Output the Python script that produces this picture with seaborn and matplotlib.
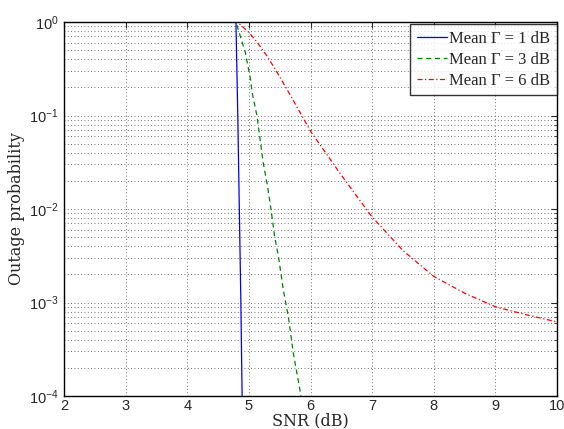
import numpy as np
import pandas as pd
import matplotlib
matplotlib.use("Agg")
import matplotlib.pyplot as plt
from matplotlib.ticker import LogLocator, FixedLocator, NullFormatter
import seaborn as sns

# ---- data ----
snr_g1 = [2.0, 4.79, 4.82, 4.845, 4.87, 4.89, 4.91]
out_g1 = [1.0, 1.0, 0.1, 0.01, 0.001, 1e-4, 1e-5]

snr_g3 = [2.0, 4.79, 4.88, 4.94, 4.98, 5.02, 5.05, 5.13, 5.18, 5.23, 5.30,
          5.36, 5.42, 5.48, 5.56, 5.64, 5.72, 5.83, 5.86]
out_g3 = [1.0, 1.0, 0.64, 0.48, 0.35, 0.26, 0.18, 0.10, 0.057, 0.032, 0.018,
          0.0098, 0.005, 0.0031, 0.00135, 7.1e-4, 2.9e-4, 1.15e-4, 8e-5]

snr_g6 = [2.0, 4.81, 5.0, 5.15, 5.3, 5.45, 5.6, 5.8, 6.0, 6.5, 7.0, 7.5, 8.0,
          8.5, 9.0, 9.5, 10.0]
out_g6 = [1.0, 1.0, 0.776, 0.589, 0.427, 0.295, 0.20, 0.117, 0.068, 0.023,
          0.0082, 0.0036, 0.0019, 0.00126, 0.0009, 0.00074, 0.00062]

labels = ["Mean Γ = 1 dB", "Mean Γ = 3 dB", "Mean Γ = 6 dB"]
x_ticks = [2, 3, 4, 5, 6, 7, 8, 9, 10]
y_ticks = [1e-4, 1e-3, 1e-2, 1e-1, 1e0]
y_tick_labels = [r"$10^{-4}$", r"$10^{-3}$", r"$10^{-2}$", r"$10^{-1}$", r"$10^{0}$"]

sns.set_style("white")
plt.rcParams["font.family"] = ["Liberation Sans", "DejaVu Sans"]
plt.rcParams["mathtext.fontset"] = "custom"
plt.rcParams["mathtext.rm"] = "Liberation Sans"
plt.rcParams["mathtext.it"] = "Liberation Sans:italic"

fig = plt.figure(figsize=(5.64, 4.29), dpi=100)
ax = fig.add_axes([64 / 564, 1 - 396 / 429, (557 - 64) / 564, (396 - 22) / 429])

series = [
    (snr_g1, out_g1, labels[0], "#0000ff", "-"),
    (snr_g3, out_g3, labels[1], "#008000", (0, (4, 3))),
    (snr_g6, out_g6, labels[2], "#ff0000", (0, (4, 2, 1, 2))),
]
for xs, ys, lab, col, ls in series:
    df = pd.DataFrame({"snr": xs, "p": ys})
    sns.lineplot(data=df, x="snr", y="p", ax=ax, color=col, linestyle=ls,
                 linewidth=0.9, label=lab, sort=False, estimator=None)

ax.set_yscale("log")
ax.set_xlim(2, 10)
ax.set_ylim(1e-4, 1)
ax.xaxis.set_major_locator(FixedLocator(x_ticks))
ax.set_xticklabels([str(t) for t in x_ticks])
ax.yaxis.set_major_locator(FixedLocator(y_ticks))
ax.set_yticklabels(y_tick_labels)
ax.yaxis.set_minor_locator(LogLocator(base=10, subs=np.arange(2, 10)))
ax.yaxis.set_minor_formatter(NullFormatter())

ax.tick_params(which="both", direction="in", top=True, right=True,
               labelsize=10.5, pad=4)
ax.tick_params(which="major", length=4, width=0.8)
ax.tick_params(which="minor", length=2, width=0.6)
ax.tick_params(axis="x", pad=2)

ax.grid(True, which="major", linestyle=(0, (1, 3)), color="0.25", linewidth=0.6)
ax.grid(True, which="minor", axis="y", linestyle=(0, (1, 3)), color="0.25", linewidth=0.6)

for sp in ax.spines.values():
    sp.set_color("black")
    sp.set_linewidth(1.0)

ax.set_xlabel("SNR (dB)", family=["DejaVu Serif"], fontsize=11.5, labelpad=0)
ax.set_ylabel("Outage probability", family=["DejaVu Serif"], fontsize=11.5, labelpad=3)

leg = ax.legend(loc="upper right", bbox_to_anchor=(1.0, 0.995),
                prop={"family": ["Liberation Serif"], "size": 12},
                frameon=True, fancybox=False, borderaxespad=0.0,
                handlelength=1.8, handletextpad=0.15, labelspacing=0.3,
                borderpad=0.4)
leg.get_frame().set_edgecolor("black")
leg.get_frame().set_linewidth(1.0)

fig.savefig("out.png", dpi=100)
